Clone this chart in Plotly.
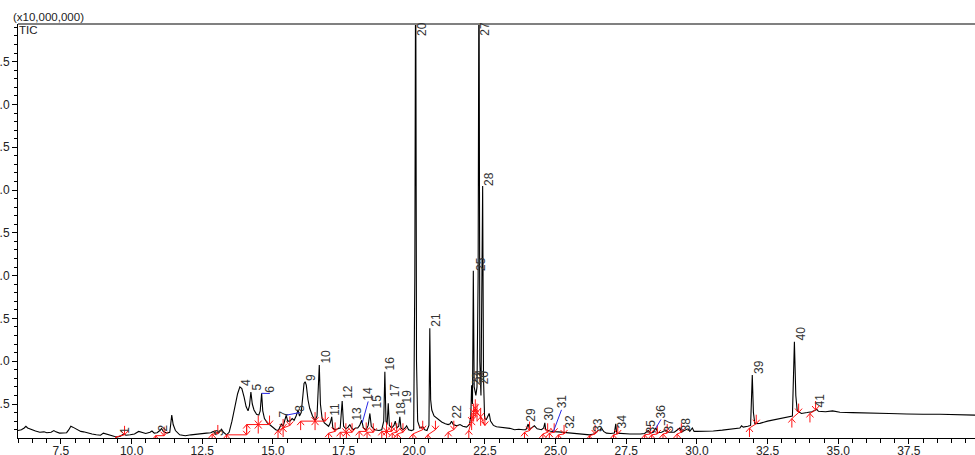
import numpy as np
import plotly.graph_objects as go

# ---------------- data ----------------
# retention time (min)
time_min = [
    5.98, 6.10, 6.20, 6.26, 6.32, 6.45, 6.60, 6.75, 6.90, 7.00, 7.15, 7.25, 7.32, 7.45, 7.60,
    7.70, 7.78, 7.85, 7.92, 8.00, 8.10, 8.20, 8.30, 8.45, 8.60, 8.75, 8.90, 9.00, 9.10, 9.25,
    9.40, 9.50, 9.60, 9.72, 9.80, 9.95, 10.10, 10.25, 10.35, 10.50, 10.65, 10.72, 10.80, 10.90, 11.00,
    11.06, 11.12, 11.25, 11.35, 11.42, 11.47, 11.55, 11.70, 11.90, 12.10, 12.30, 12.50, 12.65, 12.80, 12.89,
    12.96, 13.10, 13.18, 13.25, 13.36, 13.45, 13.55, 13.65, 13.75, 13.83, 13.90, 13.98, 14.05, 14.12, 14.17,
    14.22, 14.27, 14.33, 14.42, 14.50, 14.55, 14.60, 14.64, 14.70, 14.80, 14.90, 15.00, 15.10, 15.19, 15.25,
    15.30, 15.36, 15.42, 15.47, 15.52, 15.60, 15.68, 15.75, 15.82, 15.89, 15.94, 16.00, 16.06, 16.10, 16.14,
    16.18, 16.24, 16.30, 16.40, 16.49, 16.56, 16.61, 16.64, 16.68, 16.74, 16.82, 16.90, 16.97, 17.03, 17.08,
    17.12, 17.20, 17.30, 17.38, 17.45, 17.50, 17.58, 17.66, 17.72, 17.78, 17.85, 17.92, 18.00, 18.07, 18.14,
    18.20, 18.30, 18.37, 18.43, 18.48, 18.60, 18.75, 18.85, 18.92, 18.96, 19.00, 19.04, 19.08, 19.12, 19.20,
    19.28, 19.33, 19.38, 19.45, 19.49, 19.53, 19.60, 19.68, 19.73, 19.80, 19.90, 19.98, 20.02, 20.05, 20.08,
    20.12, 20.20, 20.30, 20.37, 20.45, 20.52, 20.55, 20.58, 20.62, 20.70, 20.80, 20.97, 21.10, 21.20, 21.27,
    21.32, 21.38, 21.50, 21.62, 21.72, 21.85, 21.95, 22.00, 22.03, 22.06, 22.09, 22.12, 22.15, 22.18, 22.22,
    22.26, 22.29, 22.32, 22.36, 22.39, 22.42, 22.45, 22.49, 22.55, 22.60, 22.65, 22.70, 22.80, 22.91, 23.05,
    23.20, 23.38, 23.55, 23.70, 23.85, 23.95, 24.00, 24.03, 24.07, 24.15, 24.25, 24.35, 24.50, 24.58, 24.62,
    24.65, 24.80, 24.92, 25.10, 25.25, 25.39, 25.60, 25.80, 26.00, 26.21, 26.35, 26.45, 26.51, 26.58, 26.62,
    26.70, 26.80, 26.95, 27.08, 27.13, 27.16, 27.30, 27.63, 28.00, 28.15, 28.28, 28.36, 28.45, 28.55, 28.62,
    28.75, 28.90, 29.00, 29.20, 29.30, 29.40, 29.46, 29.55, 29.69, 29.75, 29.84, 29.90, 30.00, 30.30, 30.58,
    30.90, 31.17, 31.35, 31.52, 31.58, 31.64, 31.80, 31.90, 31.96, 32.00, 32.05, 32.23, 32.50, 32.70, 33.00,
    33.29, 33.38, 33.45, 33.50, 33.55, 33.70, 33.90, 34.07, 34.20, 34.24, 34.30, 34.55, 34.80, 35.06, 35.50,
    36.24, 36.80, 37.42, 37.70, 38.00, 38.60, 39.20, 39.84,
]
# TIC intensity (x10,000,000)
tic = [
    0.190, 0.200, 0.220, 0.240, 0.220, 0.200, 0.185, 0.170, 0.175, 0.165, 0.170, 0.190, 0.175, 0.160, 0.160,
    0.165, 0.200, 0.240, 0.230, 0.215, 0.190, 0.180, 0.175, 0.160, 0.150, 0.140, 0.135, 0.160, 0.150, 0.130,
    0.120, 0.115, 0.125, 0.150, 0.135, 0.140, 0.150, 0.180, 0.170, 0.155, 0.170, 0.185, 0.160, 0.165, 0.190,
    0.215, 0.180, 0.160, 0.170, 0.370, 0.260, 0.190, 0.140, 0.130, 0.140, 0.150, 0.155, 0.160, 0.165, 0.180,
    0.160, 0.170, 0.205, 0.170, 0.140, 0.170, 0.300, 0.470, 0.620, 0.700, 0.680, 0.580, 0.470, 0.420, 0.480,
    0.640, 0.500, 0.430, 0.380, 0.370, 0.420, 0.625, 0.420, 0.330, 0.280, 0.255, 0.230, 0.200, 0.190, 0.240,
    0.270, 0.240, 0.300, 0.370, 0.300, 0.300, 0.330, 0.310, 0.360, 0.430, 0.360, 0.400, 0.600, 0.740, 0.760,
    0.720, 0.550, 0.450, 0.360, 0.310, 0.360, 0.700, 0.955, 0.500, 0.330, 0.280, 0.255, 0.240, 0.280, 0.350,
    0.220, 0.200, 0.210, 0.220, 0.535, 0.240, 0.210, 0.230, 0.260, 0.220, 0.200, 0.220, 0.220, 0.250, 0.310,
    0.220, 0.200, 0.250, 0.390, 0.240, 0.200, 0.190, 0.200, 0.300, 0.877, 0.300, 0.260, 0.510, 0.250, 0.220,
    0.250, 0.300, 0.220, 0.240, 0.350, 0.220, 0.200, 0.220, 0.245, 0.200, 0.190, 0.200, 2.000, 6.000, 1.000,
    0.300, 0.220, 0.235, 0.200, 0.190, 0.250, 1.384, 0.550, 0.430, 0.360, 0.330, 0.290, 0.270, 0.260, 0.270,
    0.300, 0.260, 0.245, 0.260, 0.240, 0.230, 0.260, 0.350, 0.720, 0.500, 2.057, 0.700, 0.650, 0.600, 0.700,
    2.000, 6.000, 1.000, 0.600, 1.500, 3.047, 0.800, 0.330, 0.320, 0.360, 0.390, 0.300, 0.250, 0.235, 0.230,
    0.225, 0.216, 0.200, 0.205, 0.200, 0.200, 0.240, 0.266, 0.215, 0.220, 0.245, 0.210, 0.200, 0.220, 0.280,
    0.200, 0.185, 0.176, 0.175, 0.170, 0.165, 0.155, 0.150, 0.145, 0.140, 0.150, 0.170, 0.195, 0.200, 0.220,
    0.180, 0.160, 0.155, 0.160, 0.270, 0.160, 0.155, 0.150, 0.150, 0.155, 0.190, 0.160, 0.170, 0.220, 0.165,
    0.170, 0.195, 0.170, 0.170, 0.190, 0.220, 0.170, 0.190, 0.210, 0.180, 0.220, 0.180, 0.180, 0.180, 0.185,
    0.195, 0.204, 0.210, 0.220, 0.245, 0.230, 0.240, 0.250, 0.839, 0.400, 0.270, 0.274, 0.300, 0.313, 0.335,
    0.352, 0.360, 1.228, 0.600, 0.420, 0.390, 0.400, 0.410, 0.430, 0.438, 0.415, 0.410, 0.420, 0.403, 0.400,
    0.390, 0.390, 0.383, 0.385, 0.380, 0.380, 0.375, 0.370,
]

# peak numbers and label anchor positions (time, intensity)
peak_no = list(range(1, 42))
label_t = [9.53, 10.87, 12.86, 13.84, 14.21, 14.66, 15.18, 15.72, 16.14, 16.64,
           16.98, 17.43, 17.73, 18.14, 18.44, 18.91, 19.09, 19.30, 19.50, 20.04,
           20.56, 21.27, 21.99, 22.08, 22.11, 22.23, 22.27, 22.39, 23.92, 24.57,
           24.98, 25.28, 26.28, 27.11, 28.13, 28.50, 28.78, 29.35, 31.97, 33.45, 34.12]
label_v = [0.144, 0.170, 0.120, 0.700, 0.643, 0.623, 0.330, 0.400, 0.760, 0.958,
           0.350, 0.550, 0.290, 0.530, 0.432, 0.880, 0.568, 0.354, 0.490, 4.787,
           1.386, 0.315, 0.704, 0.728, 2.048, 0.716, 4.790, 3.040, 0.276, 0.296,
           0.432, 0.199, 0.164, 0.200, 0.138, 0.320, 0.155, 0.167, 0.841, 1.230, 0.447]

# integration windows: start time, start baseline, end time, end baseline
int_start_t = [9.45, 10.85, 12.85, 13.36, 14.07, 14.48, 15.18, 15.36, 15.98, 16.49,
               16.97, 17.38, 17.60, 18.05, 18.33, 18.85, 19.02, 19.22, 19.40, 19.95,
               20.48, 21.20, 21.93, 22.03, 22.10, 22.16, 22.22, 22.35, 23.90, 24.55,
               24.78, 25.10, 26.20, 27.05, 28.15, 28.40, 28.80, 29.30, 31.86, 33.36, 34.00]
int_start_v = [0.115, 0.130, 0.150, 0.140, 0.260, 0.260, 0.190, 0.220, 0.300, 0.300,
               0.160, 0.170, 0.170, 0.180, 0.170, 0.180, 0.180, 0.160, 0.150, 0.150,
               0.140, 0.170, 0.190, 0.300, 0.400, 0.450, 0.400, 0.350, 0.170, 0.150,
               0.160, 0.140, 0.130, 0.140, 0.140, 0.140, 0.150, 0.150, 0.220, 0.330, 0.390]
int_end_t = [9.75, 11.15, 13.05, 14.07, 14.48, 14.88, 15.36, 15.60, 16.49, 16.85,
             17.20, 17.58, 17.80, 18.30, 18.55, 19.02, 19.20, 19.38, 19.60, 20.30,
             20.75, 21.40, 22.03, 22.10, 22.16, 22.22, 22.35, 22.50, 24.08, 24.72,
             24.95, 25.30, 26.40, 27.20, 28.35, 28.60, 28.95, 29.45, 32.10, 33.60, 34.20]
int_end_v = [0.140, 0.130, 0.150, 0.140, 0.260, 0.260, 0.220, 0.250, 0.300, 0.300,
             0.180, 0.170, 0.170, 0.180, 0.170, 0.180, 0.180, 0.170, 0.170, 0.200,
             0.200, 0.200, 0.300, 0.400, 0.450, 0.400, 0.350, 0.250, 0.190, 0.170,
             0.170, 0.150, 0.150, 0.150, 0.150, 0.150, 0.160, 0.170, 0.270, 0.400, 0.430]

# peaks whose labels are offset, with leader lines
leader_peaks = [6, 8, 14, 31, 36]
leader_rt = [14.60, 15.47, 18.16, 24.92, 28.55]

x_tickvals = [7.5, 10.0, 12.5, 15.0, 17.5, 20.0, 22.5, 25.0, 27.5, 30.0, 32.5, 35.0, 37.5]
y_tickvals = [0.5, 1.0, 1.5, 2.0, 2.5, 3.0, 3.5, 4.0, 4.5]

# ---------------- layout geometry ----------------
W, H = 975, 455
ML, MR, MT, MB = 18, 0, 24, 17
XR = [5.98, 39.84]
YR = [0.103, 4.94]
px = (XR[1] - XR[0]) / (W - ML - MR)   # data units per pixel (x)
py = (YR[1] - YR[0]) / (H - MT - MB)   # data units per pixel (y)

fig = go.Figure()

# chromatogram
fig.add_trace(go.Scatter(x=time_min, y=tic, mode="lines",
                         line=dict(color="black", width=1.1), hoverinfo="skip",
                         showlegend=False))

# integration marks (red baselines + arrows)
rx, ry = [], []
shaft, hw, hd = 9, 3.5, 4
for ts, vs, te, ve in zip(int_start_t, int_start_v, int_end_t, int_end_v):
    rx += [ts, te, None]
    ry += [vs, ve, None]
    # up arrow at start (tip on baseline)
    rx += [ts, ts, None, ts - hw * px, ts, ts + hw * px, None]
    ry += [vs - shaft * py, vs, None, vs - hd * py, vs, vs - hd * py, None]
    # down arrow at end (tip on baseline)
    rx += [te, te, None, te - hw * px, te, te + hw * px, None]
    ry += [ve + shaft * py, ve, None, ve + hd * py, ve, ve + hd * py, None]
fig.add_trace(go.Scatter(x=rx, y=ry, mode="lines",
                         line=dict(color="rgb(255,20,20)", width=1),
                         hoverinfo="skip", showlegend=False))

# blue leader lines from peak to displaced label
bx, by = [], []
for p, r in zip(leader_peaks, leader_rt):
    i = peak_no.index(p)
    bx += [r, label_t[i] + 6.5 * px, None]
    by += [float(np.interp(r, time_min, tic)), label_v[i], None]
fig.add_trace(go.Scatter(x=bx, y=by, mode="lines",
                         line=dict(color="rgb(40,40,230)", width=1),
                         hoverinfo="skip", showlegend=False))

# peak number labels
for n, t, v in zip(peak_no, label_t, label_v):
    fig.add_annotation(x=t, y=v, xref="x", yref="y", text=str(n), showarrow=False,
                       textangle=-90, xanchor="center", yanchor="bottom", xshift=6.5,
                       font=dict(family="Liberation Sans, Arial, sans-serif", size=12,
                                 color="#333333"),
                       borderpad=0)

fig.add_annotation(x=(12 - ML) / (W - ML - MR), y=1 + 7 / (H - MT - MB), xref="paper",
                   yref="paper", text="(x10,000,000)", showarrow=False, xanchor="left",
                   yanchor="middle", borderpad=0,
                   font=dict(family="Liberation Sans, Arial, sans-serif", size=11.5,
                             color="#222222"))
fig.add_annotation(x=0, y=1 - 6 / (H - MT - MB), xref="paper", yref="paper", text="TIC",
                   showarrow=False, xanchor="left", yanchor="middle", borderpad=0,
                   font=dict(family="Liberation Sans, Arial, sans-serif", size=11.5,
                             color="#222222"))

# top frame line
fig.add_shape(type="line", xref="paper", yref="paper", x0=0, x1=1, y0=1, y1=1,
              line=dict(color="#808080", width=2))

axis_font = dict(family="Liberation Sans, Arial, sans-serif", size=12, color="#222222")
fig.update_layout(
    template="none",
    width=W, height=H,
    margin=dict(l=ML, r=MR, t=MT, b=MB, pad=0),
    paper_bgcolor="white", plot_bgcolor="white",
    showlegend=False,
    xaxis=dict(range=XR, tickvals=x_tickvals, ticktext=[f"{v:.1f}" for v in x_tickvals],
               ticks="outside", ticklen=5, tickwidth=1, tickcolor="black",
               ticklabelstandoff=-3,
               showline=True, linecolor="black", linewidth=1, showgrid=False,
               zeroline=False, tickfont=axis_font, automargin=False,
               minor=dict(dtick=0.5, tick0=0, ticks="outside", ticklen=4,
                          tickcolor="black", showgrid=False)),
    yaxis=dict(range=YR, tickvals=y_tickvals, ticktext=[f"{v:.1f}" for v in y_tickvals],
               ticks="outside", ticklen=5, tickwidth=1, tickcolor="black",
               showline=True, linecolor="black", linewidth=1, showgrid=False,
               zeroline=False, tickfont=axis_font, automargin=False,
               minor=dict(dtick=0.1, tick0=0, ticks="outside", ticklen=3,
                          tickcolor="black", showgrid=False)),
)

fig.write_html("out.html", config={"displayModeBar": False},
               post_script="document.body.style.margin='0';document.body.style.overflow='hidden';")
